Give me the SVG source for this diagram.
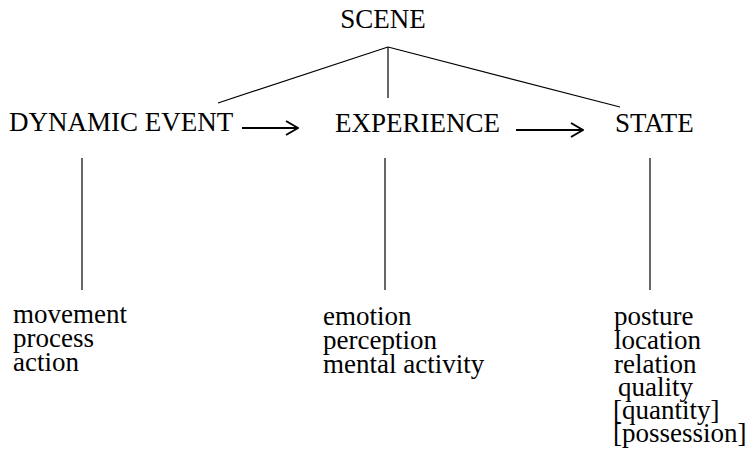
<svg xmlns="http://www.w3.org/2000/svg" width="750" height="475" viewBox="0 0 750 475">
<defs>
<style>
text{font-family:"Liberation Serif","Times New Roman",serif;font-size:27px;fill:#000}
.ln{stroke:#000;stroke-width:1.2;fill:none}
.ar{stroke:#000;stroke-width:2;fill:none}
</style>
<marker id="chev" viewBox="0 0 14 16" refX="13" refY="8" markerWidth="14" markerHeight="16" markerUnits="userSpaceOnUse" orient="auto">
<path d="M1,1 L13,8 L1,15" stroke="#000" stroke-width="2" fill="none"/>
</marker>
</defs>
<rect width="750" height="475" fill="#fff"/>
<g id="connectors">
<path class="ln" d="M388,47 L218,103"/>
<path class="ln" d="M388,47 L388,98"/>
<path class="ln" d="M388,47 L620,107"/>
<path class="ar" d="M242,128 L298,128" marker-end="url(#chev)"/>
<path class="ar" d="M516,130 L583,130" marker-end="url(#chev)"/>
<path class="ln" d="M82,158 L82,290"/>
<path class="ln" d="M385,158 L385,290"/>
<path class="ln" d="M650,158 L650,290"/>
</g>
<g id="scene"><text x="383" y="28" text-anchor="middle">SCENE</text></g>
<g id="dynamic-event"><text x="9" y="131">DYNAMIC EVENT</text></g>
<g id="experience"><text x="335" y="132">EXPERIENCE</text></g>
<g id="state"><text x="615" y="132">STATE</text></g>
<g id="dynamic-list">
<text x="13" y="323">movement</text>
<text x="13" y="347">process</text>
<text x="13" y="371">action</text>
</g>
<g id="experience-list">
<text x="323" y="325">emotion</text>
<text x="323" y="349">perception</text>
<text x="323" y="373">mental activity</text>
</g>
<g id="state-list">
<text x="614" y="325">posture</text>
<text x="614" y="349">location</text>
<text x="614" y="373">relation</text>
<text x="618" y="396">quality</text>
<text x="613" y="419">[quantity]</text>
<text x="613" y="442">[possession]</text>
</g>
</svg>
